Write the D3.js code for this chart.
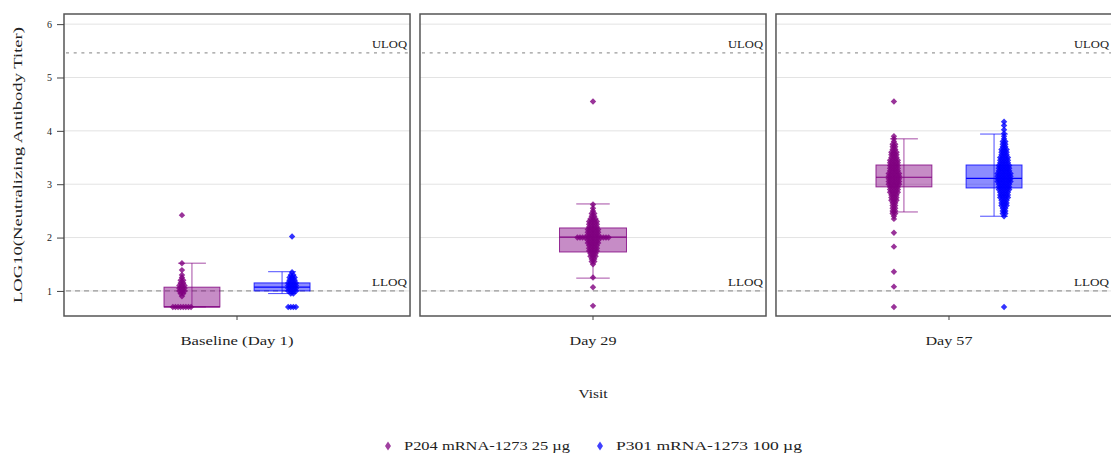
<!DOCTYPE html>
<html>
<head>
<meta charset="utf-8">
<script src="https://d3js.org/d3.v7.min.js"></script>
<style>
  body { margin: 0; background: #fff; }
  svg text { font-family: "Liberation Serif", "Times New Roman", serif; fill: #222; }
</style>
</head>
<body>
<div id="chart"></div>
<script>
// facets (visits) and treatment groups
const visits = ["Baseline (Day 1)", "Day 29", "Day 57"];
const groups = ["P204 mRNA-1273 25 µg", "P301 mRNA-1273 100 µg"];
const yTicks = [1, 2, 3, 4, 5, 6];
const refNames = ["ULOQ", "LLOQ"];
const refValues = [5.46, 1.0];

// box stats per visit: [whisker low, q1, median, q3, whisker high], null = not measured
const p204Boxes = [[0.70, 0.70, 0.70, 1.07, 1.52], [1.24, 1.73, 2.01, 2.18, 2.63], [2.48, 2.95, 3.13, 3.36, 3.85]];
const p301Boxes = [[0.95, 1.00, 1.07, 1.15, 1.36], null, [2.40, 2.93, 3.11, 3.36, 3.94]];

// individual log10 titers as [value, number of subjects]
const p204Day1 = [[0.70, 8], [0.90, 1], [0.95, 2], [1.00, 3], [1.05, 3], [1.10, 3], [1.15, 2], [1.20, 2],
                  [1.25, 1], [1.30, 1], [1.39, 1], [1.52, 1], [2.42, 1]];
const p301Day1 = [[0.70, 4], [0.95, 2], [1.00, 4], [1.05, 4], [1.10, 4], [1.15, 4], [1.20, 3], [1.25, 3],
                  [1.30, 2], [1.35, 1], [2.02, 1]];
const p204Day29 = [[0.72, 1], [1.07, 1], [1.25, 1], [1.50, 1], [1.55, 2], [1.60, 2], [1.65, 3], [1.70, 3],
                   [1.75, 4], [1.80, 4], [1.85, 4], [1.90, 5], [1.95, 5], [2.00, 13], [2.05, 5], [2.10, 5],
                   [2.15, 5], [2.20, 4], [2.25, 4], [2.30, 4], [2.35, 3], [2.40, 2], [2.45, 2], [2.50, 1],
                   [2.55, 1], [2.62, 1], [4.55, 1]];
const p204Day57 = [[0.70, 1], [1.08, 1], [1.36, 1], [1.83, 1], [2.09, 1], [2.35, 1], [2.40, 1], [2.45, 2],
                   [2.50, 2], [2.55, 2], [2.60, 2], [2.65, 2], [2.70, 3], [2.75, 3], [2.80, 3], [2.85, 4],
                   [2.90, 4], [2.95, 4], [3.00, 5], [3.05, 5], [3.10, 5], [3.15, 5], [3.20, 5], [3.25, 4],
                   [3.30, 4], [3.35, 4], [3.40, 4], [3.45, 4], [3.50, 3], [3.55, 3], [3.60, 3], [3.65, 2],
                   [3.70, 2], [3.75, 2], [3.80, 1], [3.85, 1], [3.90, 1], [4.55, 1]];
const p301Day57 = [[0.70, 1], [2.40, 1], [2.45, 2], [2.50, 2], [2.55, 2], [2.60, 3], [2.65, 3], [2.70, 3],
                   [2.75, 4], [2.80, 4], [2.85, 4], [2.90, 5], [2.95, 5], [3.00, 5], [3.05, 6], [3.10, 6],
                   [3.15, 6], [3.20, 6], [3.25, 5], [3.30, 5], [3.35, 5], [3.40, 4], [3.45, 4], [3.50, 4],
                   [3.55, 3], [3.60, 3], [3.65, 3], [3.70, 2], [3.75, 2], [3.80, 2], [3.85, 1], [3.90, 1],
                   [3.95, 1], [4.02, 1], [4.10, 1], [4.17, 1]];

const p204Points = [p204Day1, p204Day29, p204Day57];
const p301Points = [p301Day1, [], p301Day57];

const colors = {};
colors[groups[0]] = "#800080";
colors[groups[1]] = "#0000ff";

// filled diamond like R pch 18
const diamond = {
    draw(context, size) {
        let r = Math.sqrt(size) * 0.63;
        context.moveTo(0, -r);
        context.lineTo(r, 0);
        context.lineTo(0, r);
        context.lineTo(-r, 0);
        context.closePath();
    }
};

/** Class implementing the faceted box + beeswarm chart. */
class FacetBoxChart {

    /**
     * set up svg and scales
     */
    constructor() {
        this.width = 1111;
        this.svg = d3.select("#chart").append("svg")
            .attr("width", this.width)
            .attr("height", 459);

        this.top = 14;
        this.bottom = 316;

        this.facet = d3.scaleBand()
            .domain(visits)
            .range([64, 1122])
            .paddingInner(0.028);

        this.y = d3.scaleLinear()
            .domain([0.53, 6.19])
            .range([this.bottom, this.top]);
    }

    /**
     * draw all panels from the series
     */
    update(boxes, points) {
        let y = this.y;
        let bw = this.facet.bandwidth();
        let labelLen = {"Baseline (Day 1)": 113, "Day 29": 47, "Day 57": 47};

        visits.forEach((visit, vi) => {
            let x0 = this.facet(visit);
            let g = this.svg.append("g")
                .attr("transform", "translate(" + x0 + ",0)");

            // grid
            g.selectAll(".grid").data(yTicks).enter().append("line")
                .attr("x1", 0).attr("x2", bw)
                .attr("y1", d => y(d)).attr("y2", d => y(d))
                .attr("stroke", "#e3e3e3").attr("stroke-width", 1);

            // ULOQ / LLOQ
            g.selectAll(".ref").data(refValues).enter().append("line")
                .attr("x1", 2).attr("x2", bw - 2)
                .attr("y1", d => y(d)).attr("y2", d => y(d))
                .attr("stroke", "#9a9a9a").attr("stroke-width", 1.2)
                .attr("stroke-dasharray", (d, i) => i === 0 ? "3,4.7" : "5,4");
            // keep the label inside the page when the last panel runs past the edge
            let labelX = Math.min(bw - 3, this.width - 2 - x0);
            g.selectAll(".refLabel").data(refValues).enter().append("text")
                .attr("x", labelX)
                .attr("y", d => y(d) - 5)
                .attr("text-anchor", "end")
                .attr("font-size", 11)
                .attr("textLength", 35)
                .attr("lengthAdjust", "spacingAndGlyphs")
                .attr("fill", "#444")
                .text((d, i) => refNames[i]);

            // groups present at this visit
            let present = groups.filter((grp, gi) => boxes[gi][vi] !== null);
            let half = present.length === 2 ? 73 : 54;
            let inner = d3.scaleBand()
                .domain(present)
                .range([bw / 2 - half, bw / 2 + half])
                .paddingInner(0.38);
            let boxW = inner.bandwidth();

            present.forEach(grp => {
                let gi = groups.indexOf(grp);
                let s = boxes[gi][vi];
                let cx = inner(grp) + boxW / 2;
                let col = colors[grp];

                // whisker
                g.append("line")
                    .attr("x1", cx).attr("x2", cx)
                    .attr("y1", y(s[0])).attr("y2", y(s[4]))
                    .attr("stroke", col).attr("stroke-width", 1).attr("stroke-opacity", 0.7);
                g.selectAll(".cap" + gi).data([s[0], s[4]]).enter().append("line")
                    .attr("x1", cx - boxW / 4).attr("x2", cx + boxW / 4)
                    .attr("y1", d => y(d)).attr("y2", d => y(d))
                    .attr("stroke", col).attr("stroke-width", 1).attr("stroke-opacity", 0.7);

                // box
                g.append("rect")
                    .attr("x", inner(grp))
                    .attr("width", boxW)
                    .attr("y", y(s[3]))
                    .attr("height", Math.max(1, y(s[1]) - y(s[3])))
                    .attr("fill", col).attr("fill-opacity", 0.45)
                    .attr("stroke", col).attr("stroke-width", 1).attr("stroke-opacity", 0.8);
                g.append("line")
                    .attr("x1", inner(grp)).attr("x2", inner(grp) + boxW)
                    .attr("y1", y(s[2])).attr("y2", y(s[2]))
                    .attr("stroke", col).attr("stroke-width", 1.2);

                // points, same values spread side by side
                let shift = present.length === 2 ? (gi === 0 ? -10 : 10) : 0;
                let pts = [];
                points[gi][vi].forEach(row => {
                    for (let i = 0; i < row[1]; i++) {
                        pts.push({v: row[0], dx: (i - (row[1] - 1) / 2) * 2.6});
                    }
                });
                g.selectAll(".pt" + gi).data(pts).enter().append("path")
                    .attr("d", d3.symbol().type(diamond).size(26))
                    .attr("transform", d => "translate(" + (cx + shift + d.dx) + "," + y(d.v) + ")")
                    .attr("fill", col).attr("fill-opacity", 0.8);
            });

            // panel border
            g.append("rect")
                .attr("x", 0).attr("y", this.top)
                .attr("width", bw).attr("height", this.bottom - this.top)
                .attr("fill", "none")
                .attr("stroke", "#555").attr("stroke-width", 1.5);

            // x tick and label
            g.append("line")
                .attr("x1", bw / 2).attr("x2", bw / 2)
                .attr("y1", this.bottom).attr("y2", this.bottom + 4)
                .attr("stroke", "#444");
            g.append("text")
                .attr("x", bw / 2).attr("y", 345)
                .attr("text-anchor", "middle")
                .attr("font-size", 12.5)
                .attr("textLength", labelLen[visit])
                .attr("lengthAdjust", "spacingAndGlyphs")
                .text(visit);
        });

        // y axis
        let yAxis = d3.axisLeft(y).tickValues(yTicks).tickSize(7).tickPadding(5).tickFormat(d3.format("d"));
        let ya = this.svg.append("g")
            .attr("transform", "translate(" + this.facet(visits[0]) + ",0)")
            .call(yAxis);
        ya.select(".domain").remove();
        ya.selectAll(".tick line").attr("stroke", "#444");
        ya.selectAll(".tick text")
            .attr("font-family", "Liberation Serif")
            .attr("font-size", 10)
            .attr("fill", "#333");

        this.svg.append("text")
            .attr("transform", "translate(17," + (this.top + this.bottom) / 2 + ") rotate(-90)")
            .attr("text-anchor", "middle")
            .attr("dy", "0.35em")
            .attr("font-size", 13)
            .attr("textLength", 276)
            .attr("lengthAdjust", "spacingAndGlyphs")
            .text("LOG10(Neutralizing Antibody Titer)");

        this.svg.append("text")
            .attr("x", this.facet(visits[1]) + bw / 2).attr("y", 398)
            .attr("text-anchor", "middle")
            .attr("font-size", 12.5)
            .attr("textLength", 29)
            .attr("lengthAdjust", "spacingAndGlyphs")
            .text("Visit");

        // legend
        let legX = [388, 600];
        let legLen = [166, 186];
        let leg = this.svg.selectAll(".legend").data(groups).enter().append("g")
            .attr("transform", (d, i) => "translate(" + legX[i] + ",446)");
        leg.append("path")
            .attr("d", "M0,-4.5L3,0L0,4.5L-3,0Z")
            .attr("fill", d => colors[d]).attr("fill-opacity", 0.75);
        leg.append("text")
            .attr("x", 16).attr("y", 4)
            .attr("font-size", 12)
            .attr("textLength", (d, i) => legLen[i])
            .attr("lengthAdjust", "spacingAndGlyphs")
            .text(d => d);
    }
}

let chart = new FacetBoxChart();
chart.update([p204Boxes, p301Boxes], [p204Points, p301Points]);
</script>
</body>
</html>
